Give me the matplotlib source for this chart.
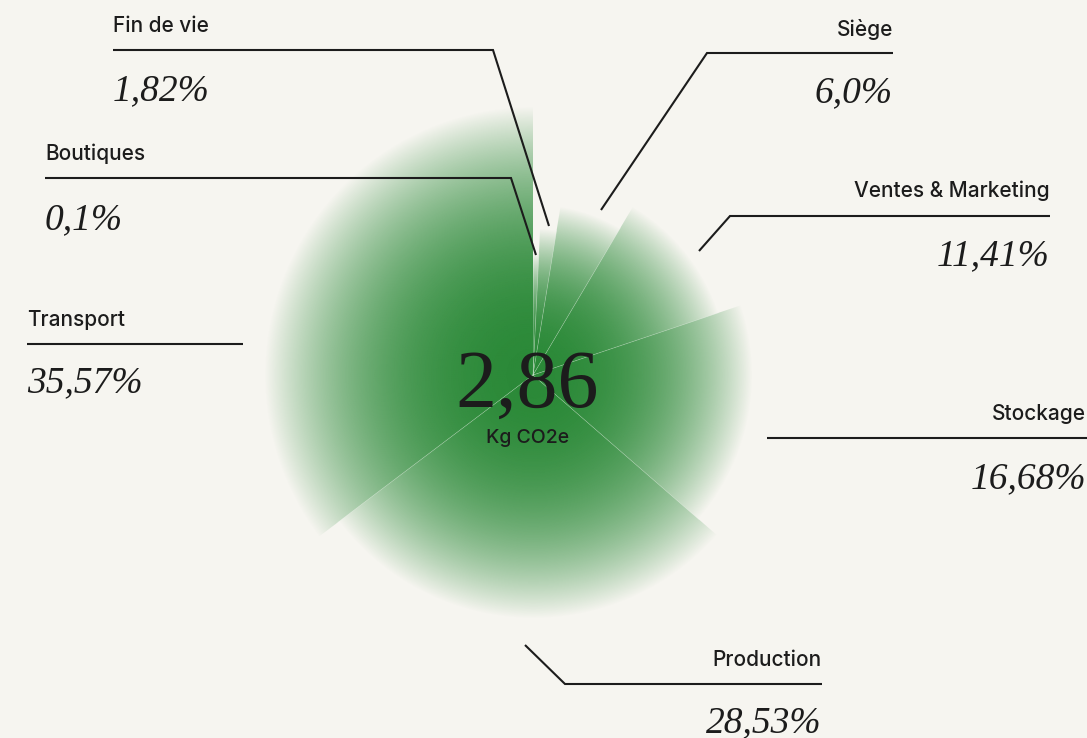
import numpy as np
import matplotlib.pyplot as plt
from matplotlib.patches import Wedge

# data
labels = ["Boutiques", "Fin de vie", "Siège", "Ventes & Marketing",
          "Stockage", "Production", "Transport"]
shares = [0.1, 1.82, 6.0, 11.41, 16.68, 28.53, 35.57]
share_text = ["0,1%", "1,82%", "6,0%", "11,41%", "16,68%", "28,53%", "35,57%"]
total_text = "2,86"
unit_text = "Kg CO2e"

W, H = 1087, 738
CX, CY = 533, 375          # pie centre, pixels from top-left
bg = "#f6f5f0"
ink = "#1c1c1c"
green = np.array([42, 137, 55]) / 255

def P(x, y):
    # pixel position -> axes coords centred on the pie
    return x - CX, CY - y

fig = plt.figure(figsize=(W / 100, H / 100), dpi=100, facecolor=bg)
ax = fig.add_axes([0, 0, 1, 1])
ax.set_facecolor(bg)
ax.axis("off")

# slice angles (clockwise from 12 o'clock), tiny slices get a minimum width
vals = np.array(shares)
span = np.maximum(vals * 3.6, 2.8)
span = span * 360 / span.sum()
ends = np.cumsum(span)
starts = ends - span

# radius grows with the rank of the share
rank = np.argsort(np.argsort(vals))
radius = 122 + rank * 24.5

n = 500
g = np.linspace(-1, 1, n)
xx, yy = np.meshgrid(g, g)
rr = np.hypot(xx, yy)
img = np.zeros((n, n, 4))
img[..., :3] = green
img[..., 3] = np.clip(1 - rr ** 2.4, 0, 1)

for a0, a1, R in zip(starts, ends, radius):
    w = Wedge((0, 0), R, 90 - a1, 90 - a0, facecolor="none", edgecolor="none")
    ax.add_patch(w)
    im = ax.imshow(img, extent=(-R, R, -R, R), interpolation="bilinear", zorder=1)
    im.set_clip_path(w)

# faint seams between slices
for i, a in enumerate(starts):
    R2 = min(radius[i], radius[i - 1])
    t = np.deg2rad(90 - a)
    ax.plot([0, R2 * np.cos(t)], [0, R2 * np.sin(t)], color="white",
            alpha=0.3, lw=0.5, zorder=2)

# centre text
ax.text(*P(527, 407), total_text, ha="center", va="baseline", fontsize=59,
        family="Liberation Serif", color=ink, zorder=5)
ax.text(*P(528, 443), unit_text, ha="center", va="baseline", fontsize=14,
        family="Inter", fontweight="medium", color=ink, zorder=5)

# callouts: label pos, percent baseline, leader line points
callouts = {
    "Fin de vie": dict(x=113, ha="left", ly=32, py=100,
                       line=[(113, 50), (493, 50), (549, 226)]),
    "Boutiques": dict(x=45, ha="left", ly=160, py=229,
                      line=[(45, 178), (511, 178), (536, 255)]),
    "Transport": dict(x=27, ha="left", ly=326, py=392,
                      line=[(27, 344), (243, 344)]),
    "Siège": dict(x=893, ha="right", ly=36, py=102,
                  line=[(893, 53), (707, 53), (601, 210)]),
    "Ventes & Marketing": dict(x=1050, ha="right", ly=197, py=265,
                               line=[(1050, 216), (730, 216), (699, 251)]),
    "Stockage": dict(x=1086, ha="right", ly=420, py=488,
                     line=[(1090, 438), (767, 438)]),
    "Production": dict(x=822, ha="right", ly=666, py=732,
                       line=[(822, 684), (565, 684), (525, 645)]),
}

for name, pct in zip(labels, share_text):
    c = callouts[name]
    ax.text(*P(c["x"], c["ly"]), name, ha=c["ha"], va="baseline",
            fontsize=15, family="Inter", fontweight="medium", color=ink, zorder=5)
    ax.text(*P(c["x"], c["py"]), pct, ha=c["ha"], va="baseline",
            fontsize=27, family="Liberation Serif", style="italic",
            color=ink, zorder=5)
    pts = np.array([P(x, y) for x, y in c["line"]])
    ax.plot(pts[:, 0], pts[:, 1], color=ink, lw=1.5, zorder=4,
            solid_capstyle="butt", solid_joinstyle="miter")

ax.set_xlim(-CX, W - CX)
ax.set_ylim(-(H - CY), CY)
ax.set_aspect("auto")

fig.savefig("out.png", dpi=100, facecolor=bg)
